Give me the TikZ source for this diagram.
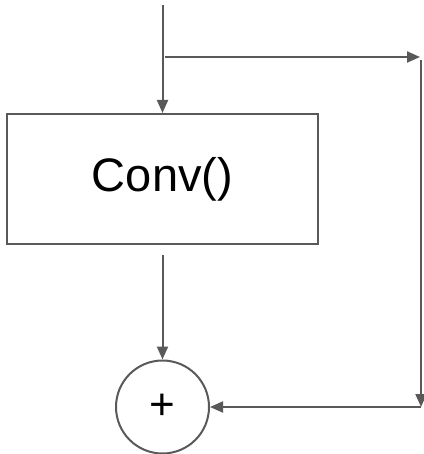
\documentclass[tikz,border=0pt]{standalone}
\usepackage{fontspec}
\setmainfont{Liberation Sans}
\usetikzlibrary{arrows.meta}
\definecolor{linegray}{HTML}{595959}
\tikzset{
  conn/.style={draw=linegray, line width=2pt, -{Triangle[length=13pt,width=11pt]}},
  convbox/.style={draw=linegray, line width=2pt, minimum width=311pt, minimum height=130pt, inner sep=0pt, font=\fontsize{47}{56}\selectfont},
  addnode/.style={draw=linegray, line width=2pt, circle, minimum size=93pt, inner sep=0pt, font=\fontsize{44}{52}\selectfont}
}
\begin{document}
\begin{tikzpicture}[x=1pt,y=-1pt]
\useasboundingbox (0,0) rectangle (423,454);
\node[convbox] (conv) at (162.5,179) {Conv()};
\node[addnode] (plus) at (162.5,407) {+};
\coordinate (in) at (162.5,5);
\coordinate (br) at (165,57);
\coordinate (tr) at (420,57);
\coordinate (tr2) at (421,60);
\coordinate (brc) at (421,407);
\coordinate (convout) at (162.5,255);
\draw[conn] (in) -- (conv.north);
\draw[conn] (br) -- (tr);
\draw[conn] (tr2) -- (brc);
\draw[conn] (brc) -- (plus.east);
\draw[conn] (convout) -- (plus.north);
\end{tikzpicture}
\end{document}
